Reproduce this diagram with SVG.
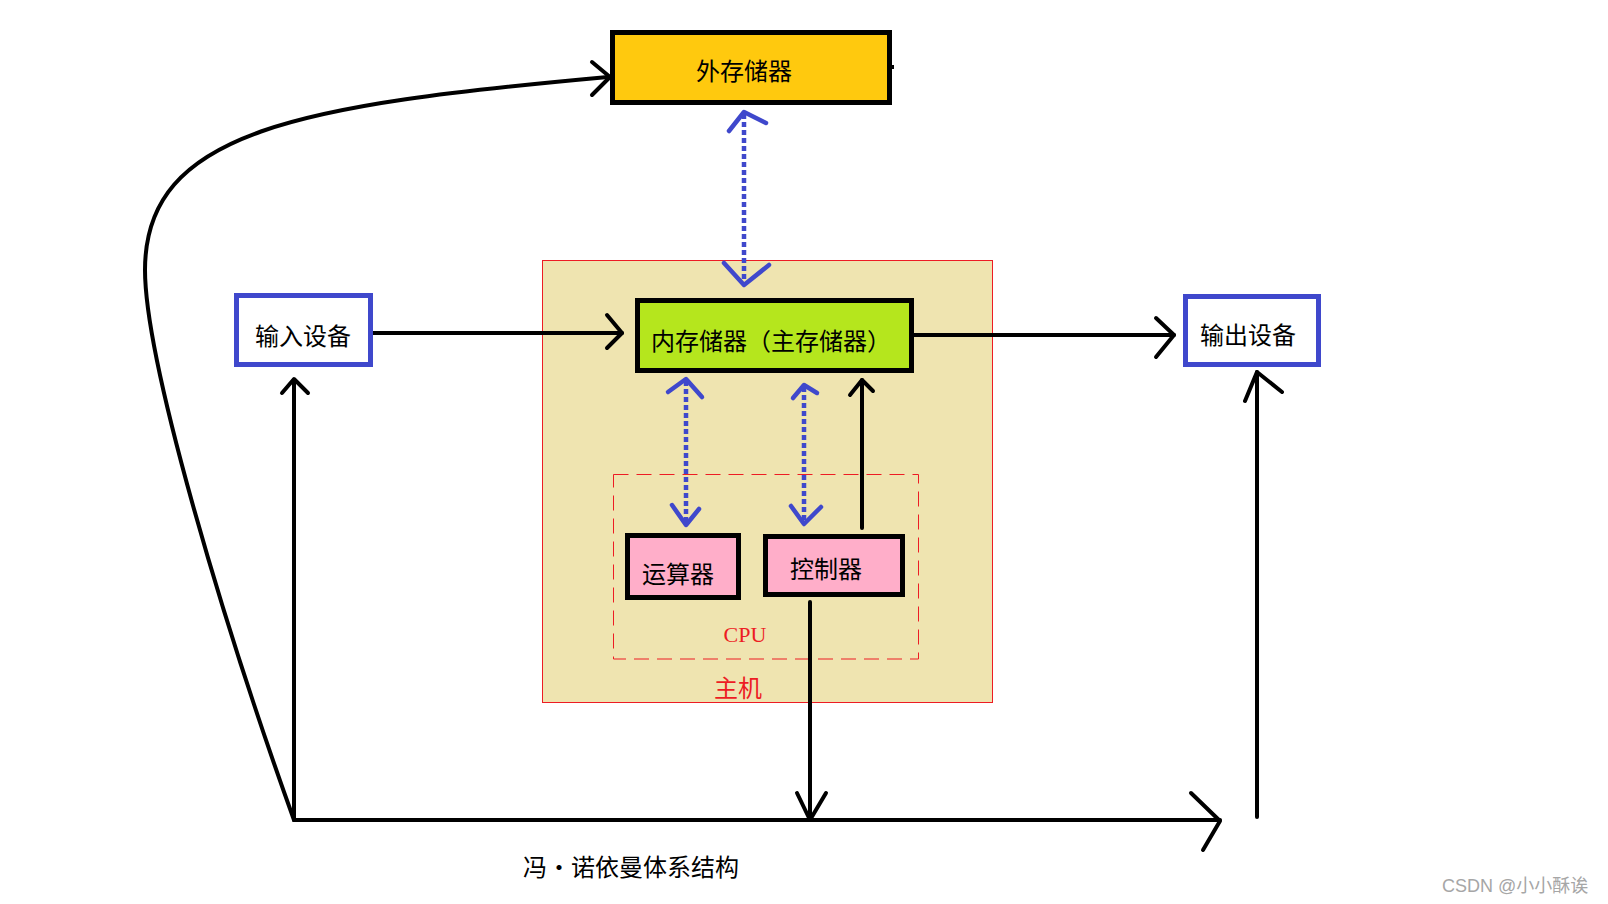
<svg xmlns="http://www.w3.org/2000/svg" width="1608" height="904" viewBox="0 0 1608 904">
<style>
.t{font-family:"Noto Sans CJK SC","Noto Sans",sans-serif;font-size:24px;fill:#000;text-anchor:middle;dominant-baseline:central}
.red{fill:#ed1c24}
.box{stroke:#000;stroke-width:5}
.io{fill:#fff;stroke:#3f48cc;stroke-width:5}
.k{fill:none;stroke:#000;stroke-width:4;stroke-linecap:round;stroke-linejoin:round}
.b{fill:none;stroke:#3f48cc;stroke-width:4.5;stroke-linecap:round;stroke-linejoin:round}
.bd{fill:none;stroke:#3f48cc;stroke-width:4.5;stroke-dasharray:5 3}
</style>
<rect width="1608" height="904" fill="#fff"/>
<g id="host">
<rect x="542.5" y="260.5" width="450" height="442" fill="#efe4b0" stroke="#ed1c24" stroke-width="1"/>
<text class="t red" x="738" y="686">主机</text>
</g>
<g id="cpu">
<rect x="613.5" y="474.5" width="305" height="184.5" fill="none" stroke="#ed1c24" stroke-width="1" stroke-dasharray="15 8"/>
<text x="745" y="642" font-family="Liberation Serif,serif" font-size="22" fill="#ed1c24" text-anchor="middle">CPU</text>
</g>
<g id="connectors">
<path class="k" d="M 294 820 C 222 620, 145 360, 145 270 C 145 130, 300 105, 608 77"/>
<polyline class="k" points="592,62 610,77 592,95"/>
<line class="k" x1="373" y1="333" x2="622" y2="333"/>
<polyline class="k" points="607,315 622,333 607,348"/>
<line class="k" x1="914" y1="335" x2="1174" y2="335"/>
<polyline class="k" points="1156,318 1174,335 1156,357"/>
<line class="k" x1="862" y1="528" x2="862" y2="380"/>
<polyline class="k" points="850,395 862,380 873,391"/>
<line class="k" x1="810" y1="602" x2="810" y2="820"/>
<polyline class="k" points="797,793 810,820 826,793"/>
<line class="k" x1="294" y1="820" x2="1220" y2="820"/>
<polyline class="k" points="1191,793 1220,821 1203,850"/>
<line class="k" x1="294" y1="820" x2="294" y2="380"/>
<polyline class="k" points="282,393 294,379 308,393"/>
<line class="k" x1="1257" y1="817" x2="1257" y2="372"/>
<polyline class="k" points="1245,401 1257,372 1282,392"/>
<line class="bd" x1="744" y1="114" x2="744" y2="283"/>
<polyline class="b" points="729,131 744,112 766,123"/>
<polyline class="b" points="724,263 744,285 769,265"/>
<line class="bd" x1="686" y1="381" x2="686" y2="523"/>
<polyline class="b" points="668,392 686,379 702,397"/>
<polyline class="b" points="672,505 686,525 699,509"/>
<line class="bd" x1="804" y1="387" x2="804" y2="522"/>
<polyline class="b" points="793,398 804,385 817,393"/>
<polyline class="b" points="791,506 804,524 821,507"/>
</g>
<g id="external-storage">
<rect class="box" x="612.5" y="32.5" width="277" height="70" fill="#ffc90e"/>
<rect x="891" y="65" width="3" height="4" fill="#000"/>
<text class="t" x="744" y="69">外存储器</text>
</g>
<g id="input-device">
<rect class="io" x="236.5" y="295.5" width="134" height="69"/>
<text class="t" x="303" y="334">输入设备</text>
</g>
<g id="main-memory">
<rect class="box" x="637.5" y="300.5" width="274" height="70" fill="#b5e61d"/>
<text class="t" x="771" y="339">内存储器（主存储器）</text>
</g>
<g id="output-device">
<rect class="io" x="1185.5" y="296.5" width="133" height="68"/>
<text class="t" x="1248" y="333">输出设备</text>
</g>
<g id="alu">
<rect class="box" x="627.5" y="535.5" width="111" height="62" fill="#ffaec9"/>
<text class="t" x="678" y="572">运算器</text>
</g>
<g id="controller">
<rect class="box" x="765.5" y="536.5" width="137" height="58" fill="#ffaec9"/>
<text class="t" x="826" y="567">控制器</text>
</g>
<g id="title">
<text class="t" x="631" y="865">冯·诺依曼体系结构</text>
</g>
<text x="1442" y="892" font-family="Liberation Sans,&quot;Noto Sans CJK SC&quot;,sans-serif" font-size="18" fill="#a6a6a6">CSDN @小小酥诶</text>
</svg>
